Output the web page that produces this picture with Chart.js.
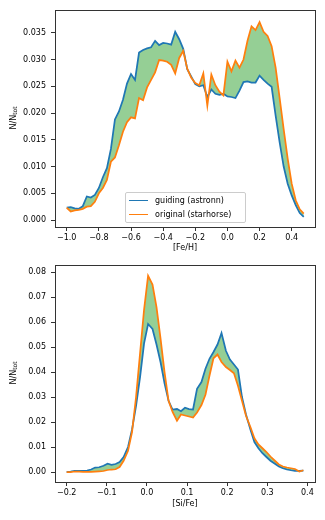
<!DOCTYPE html>
<html>
<head>
<meta charset="utf-8">
<script src="https://cdn.jsdelivr.net/npm/chart.js@4"></script>
<style>
  html, body { margin: 0; padding: 0; background: #fff; }
  #fig { position: relative; width: 325px; height: 520px; font-family: "DejaVu Sans", sans-serif; }
  canvas { position: absolute; left: 0; }
  .ylab { position: absolute; font-size: 8px; color: #000; white-space: nowrap;
          transform: translate(-50%, -50%) rotate(-90deg); }
  .ylab sub { font-size: 6px; vertical-align: -1px; line-height: 0; }
  .legend { position: absolute; left: 125px; top: 192px; width: 119px; height: 29px;
            border: 1px solid #ccc; border-radius: 2px; background: rgba(255,255,255,0.8);
            font-size: 8px; color: #000; }
  .legend .row { position: absolute; left: 0; height: 10px; line-height: 10px; white-space: nowrap; }
  .legend .swatch { position: absolute; left: 3px; top: 4px; width: 19px; height: 0; border-top: 1.75px solid; }
  .legend .lbl { position: absolute; left: 29px; top: 0; }
</style>
</head>
<body>
<div id="fig">
  <canvas id="feh" width="325" height="255" style="top:0"></canvas>
  <canvas id="sife" width="325" height="265" style="top:255px"></canvas>
  <div class="ylab" style="left:13px; top:118px">N/N<sub>tot</sub></div>
  <div class="ylab" style="left:13px; top:373px">N/N<sub>tot</sub></div>
  <div class="legend">
    <div class="row" style="top:3px"><span class="swatch" style="border-color:#1f77b4"></span><span class="lbl">guiding (astronn)</span></div>
    <div class="row" style="top:17px"><span class="swatch" style="border-color:#ff7f0e"></span><span class="lbl">original (starhorse)</span></div>
  </div>
</div>
<script>
// [Fe/H] distribution
const fehBins = [-1.000,-0.975,-0.950,-0.925,-0.900,-0.875,-0.850,-0.825,-0.800,-0.775,
  -0.750,-0.725,-0.700,-0.675,-0.650,-0.625,-0.600,-0.575,-0.550,-0.525,
  -0.500,-0.475,-0.450,-0.425,-0.400,-0.375,-0.350,-0.325,-0.300,-0.275,
  -0.250,-0.225,-0.200,-0.175,-0.150,-0.125,-0.100,-0.075,-0.050,-0.025,
  0.000,0.025,0.050,0.075,0.100,0.125,0.150,0.175,0.200,0.225,
  0.250,0.275,0.300,0.325,0.350,0.375,0.400,0.425,0.450,0.475];
const fehGuiding = [0.0023,0.0024,0.0022,0.0021,0.0026,0.0044,0.0042,0.0047,0.0060,0.0080,
  0.0097,0.0133,0.0188,0.0203,0.0225,0.0255,0.0273,0.0262,0.0313,0.0318,
  0.0321,0.0323,0.0335,0.0327,0.0331,0.0330,0.0328,0.0352,0.0338,0.0320,
  0.0282,0.0268,0.0254,0.0250,0.0252,0.0230,0.0244,0.0236,0.0234,0.0236,
  0.0231,0.0230,0.0228,0.0242,0.0258,0.0259,0.0257,0.0257,0.0270,0.0262,
  0.0255,0.0249,0.0195,0.0145,0.0100,0.0068,0.0046,0.0028,0.0013,0.0006];
const fehOriginal = [0.0023,0.0016,0.0018,0.0019,0.0021,0.0025,0.0026,0.0034,0.0050,0.0060,
  0.0075,0.0109,0.0117,0.0140,0.0165,0.0183,0.0192,0.0190,0.0228,0.0224,
  0.0248,0.0262,0.0276,0.0299,0.0298,0.0296,0.0290,0.0274,0.0303,0.0316,
  0.0283,0.0266,0.0256,0.0252,0.0274,0.0214,0.0272,0.0252,0.0240,0.0233,
  0.0296,0.0278,0.0298,0.0285,0.0300,0.0335,0.0362,0.0355,0.0370,0.0352,
  0.0344,0.0325,0.0285,0.0228,0.0170,0.0115,0.0068,0.0037,0.0020,0.0012];
const fehXTicks = [-1.0, -0.8, -0.6, -0.4, -0.2, 0.0, 0.2, 0.4];
const fehYTicks = [0, 0.005, 0.010, 0.015, 0.020, 0.025, 0.030, 0.035];

// [Si/Fe] distribution
const sifeBins = [-0.200,-0.190,-0.180,-0.169,-0.159,-0.149,-0.139,-0.129,-0.119,-0.108,
  -0.098,-0.088,-0.078,-0.068,-0.058,-0.047,-0.037,-0.027,-0.017,-0.007,
  0.003,0.014,0.024,0.034,0.044,0.054,0.064,0.075,0.085,0.095,
  0.105,0.115,0.125,0.136,0.146,0.156,0.166,0.176,0.186,0.197,
  0.207,0.217,0.227,0.237,0.247,0.258,0.268,0.278,0.288,0.298,
  0.308,0.319,0.329,0.339,0.349,0.359,0.369,0.380,0.390];
const sifeGuiding = [0.0000,0.0002,0.0005,0.0005,0.0005,0.0006,0.0010,0.0018,0.0019,0.0025,
  0.0033,0.0029,0.0032,0.0040,0.0060,0.0100,0.0170,0.0265,0.0380,0.0515,
  0.0592,0.0572,0.0510,0.0440,0.0355,0.0285,0.0250,0.0252,0.0243,0.0257,
  0.0252,0.0250,0.0333,0.0360,0.0413,0.0453,0.0480,0.0510,0.0556,0.0485,
  0.0450,0.0430,0.0410,0.0300,0.0230,0.0170,0.0120,0.0095,0.0075,0.0060,
  0.0045,0.0033,0.0022,0.0015,0.0010,0.0007,0.0005,0.0005,0.0006];
const sifeOriginal = [0.0000,0.0000,0.0002,0.0002,0.0001,0.0001,0.0001,0.0002,0.0003,0.0004,
  0.0008,0.0010,0.0011,0.0020,0.0045,0.0085,0.0160,0.0300,0.0475,0.0650,
  0.0785,0.0750,0.0660,0.0535,0.0400,0.0285,0.0240,0.0205,0.0230,0.0226,
  0.0222,0.0218,0.0238,0.0268,0.0309,0.0385,0.0455,0.0470,0.0440,0.0420,
  0.0408,0.0395,0.0345,0.0285,0.0225,0.0180,0.0135,0.0110,0.0095,0.0080,
  0.0062,0.0045,0.0030,0.0022,0.0018,0.0015,0.0012,0.0002,0.0007];
const sifeXTicks = [-0.2, -0.1, 0.0, 0.1, 0.2, 0.3, 0.4];
const sifeYTicks = [0, 0.01, 0.02, 0.03, 0.04, 0.05, 0.06, 0.07, 0.08];

const BLUE = '#1f77b4';
const ORANGE = '#ff7f0e';
const GREEN = 'rgba(44, 160, 44, 0.5)';

Chart.defaults.font.family = '"DejaVu Sans", sans-serif';
Chart.defaults.font.size = 8;
Chart.defaults.color = '#000';

// matplotlib style box around the plot area
const framePlugin = {
  id: 'frame',
  afterDraw(chart) {
    const a = chart.chartArea;
    const ctx = chart.ctx;
    ctx.save();
    ctx.strokeStyle = '#333';
    ctx.lineWidth = 1;
    ctx.strokeRect(Math.round(a.left) + 0.5, Math.round(a.top) + 0.5,
      Math.round(a.right - a.left), Math.round(a.bottom - a.top));
    ctx.restore();
  }
};

const minus = s => s.replace('-', '\u2212');

function toPoints(xs, ys) {
  return xs.map((x, i) => ({ x: x, y: ys[i] }));
}

function makeChart(id, height, plotBottom, xs, guiding, original, xr, yr, xTicks, yTicks, xDigits, yDigits, xTitle, titlePad) {
  return new Chart(document.getElementById(id), {
    type: 'line',
    data: {
      datasets: [{
        label: 'guiding (astronn)',
        data: toPoints(xs, guiding),
        borderColor: BLUE,
        borderWidth: 1.75,
        pointRadius: 0,
        tension: 0,
        fill: { target: '+1', above: GREEN, below: GREEN },
        order: 2
      }, {
        label: 'original (starhorse)',
        data: toPoints(xs, original),
        borderColor: ORANGE,
        borderWidth: 1.75,
        pointRadius: 0,
        tension: 0,
        fill: false,
        order: 1
      }]
    },
    options: {
      responsive: false,
      animation: false,
      events: [],
      layout: { padding: { left: 0, right: 10, top: 9, bottom: 0 } },
      plugins: { legend: { display: false }, tooltip: { enabled: false } },
      scales: {
        x: {
          type: 'linear',
          min: xr[0],
          max: xr[1],
          afterBuildTicks: s => { s.ticks = xTicks.map(v => ({ value: v })); },
          afterFit: s => { s.height = height - plotBottom; },
          ticks: { padding: 2, maxRotation: 0, callback: v => minus(v.toFixed(xDigits)) },
          grid: { drawOnChartArea: false, drawTicks: true, tickLength: 4, color: '#333' },
          border: { display: false },
          title: { display: true, text: xTitle, padding: { top: 0, bottom: titlePad } }
        },
        y: {
          min: yr[0],
          max: yr[1],
          afterBuildTicks: s => { s.ticks = yTicks.map(v => ({ value: v })); },
          afterFit: s => { s.width = 55; },
          ticks: { padding: 5, callback: v => v.toFixed(yDigits) },
          grid: { drawOnChartArea: false, drawTicks: true, tickLength: 4, color: '#333' },
          border: { display: false }
        }
      }
    },
    plugins: [framePlugin]
  });
}

makeChart('feh', 255, 227, fehBins, fehGuiding, fehOriginal,
  [-1.073, 0.545], [-0.0013, 0.0393], fehXTicks, fehYTicks, 1, 3, '[Fe/H]', 2);
makeChart('sife', 265, 227, sifeBins, sifeGuiding, sifeOriginal,
  [-0.229, 0.419], [-0.0040, 0.0829], sifeXTicks, sifeYTicks, 1, 2, '[Si/Fe]', 11);
</script>
</body>
</html>
